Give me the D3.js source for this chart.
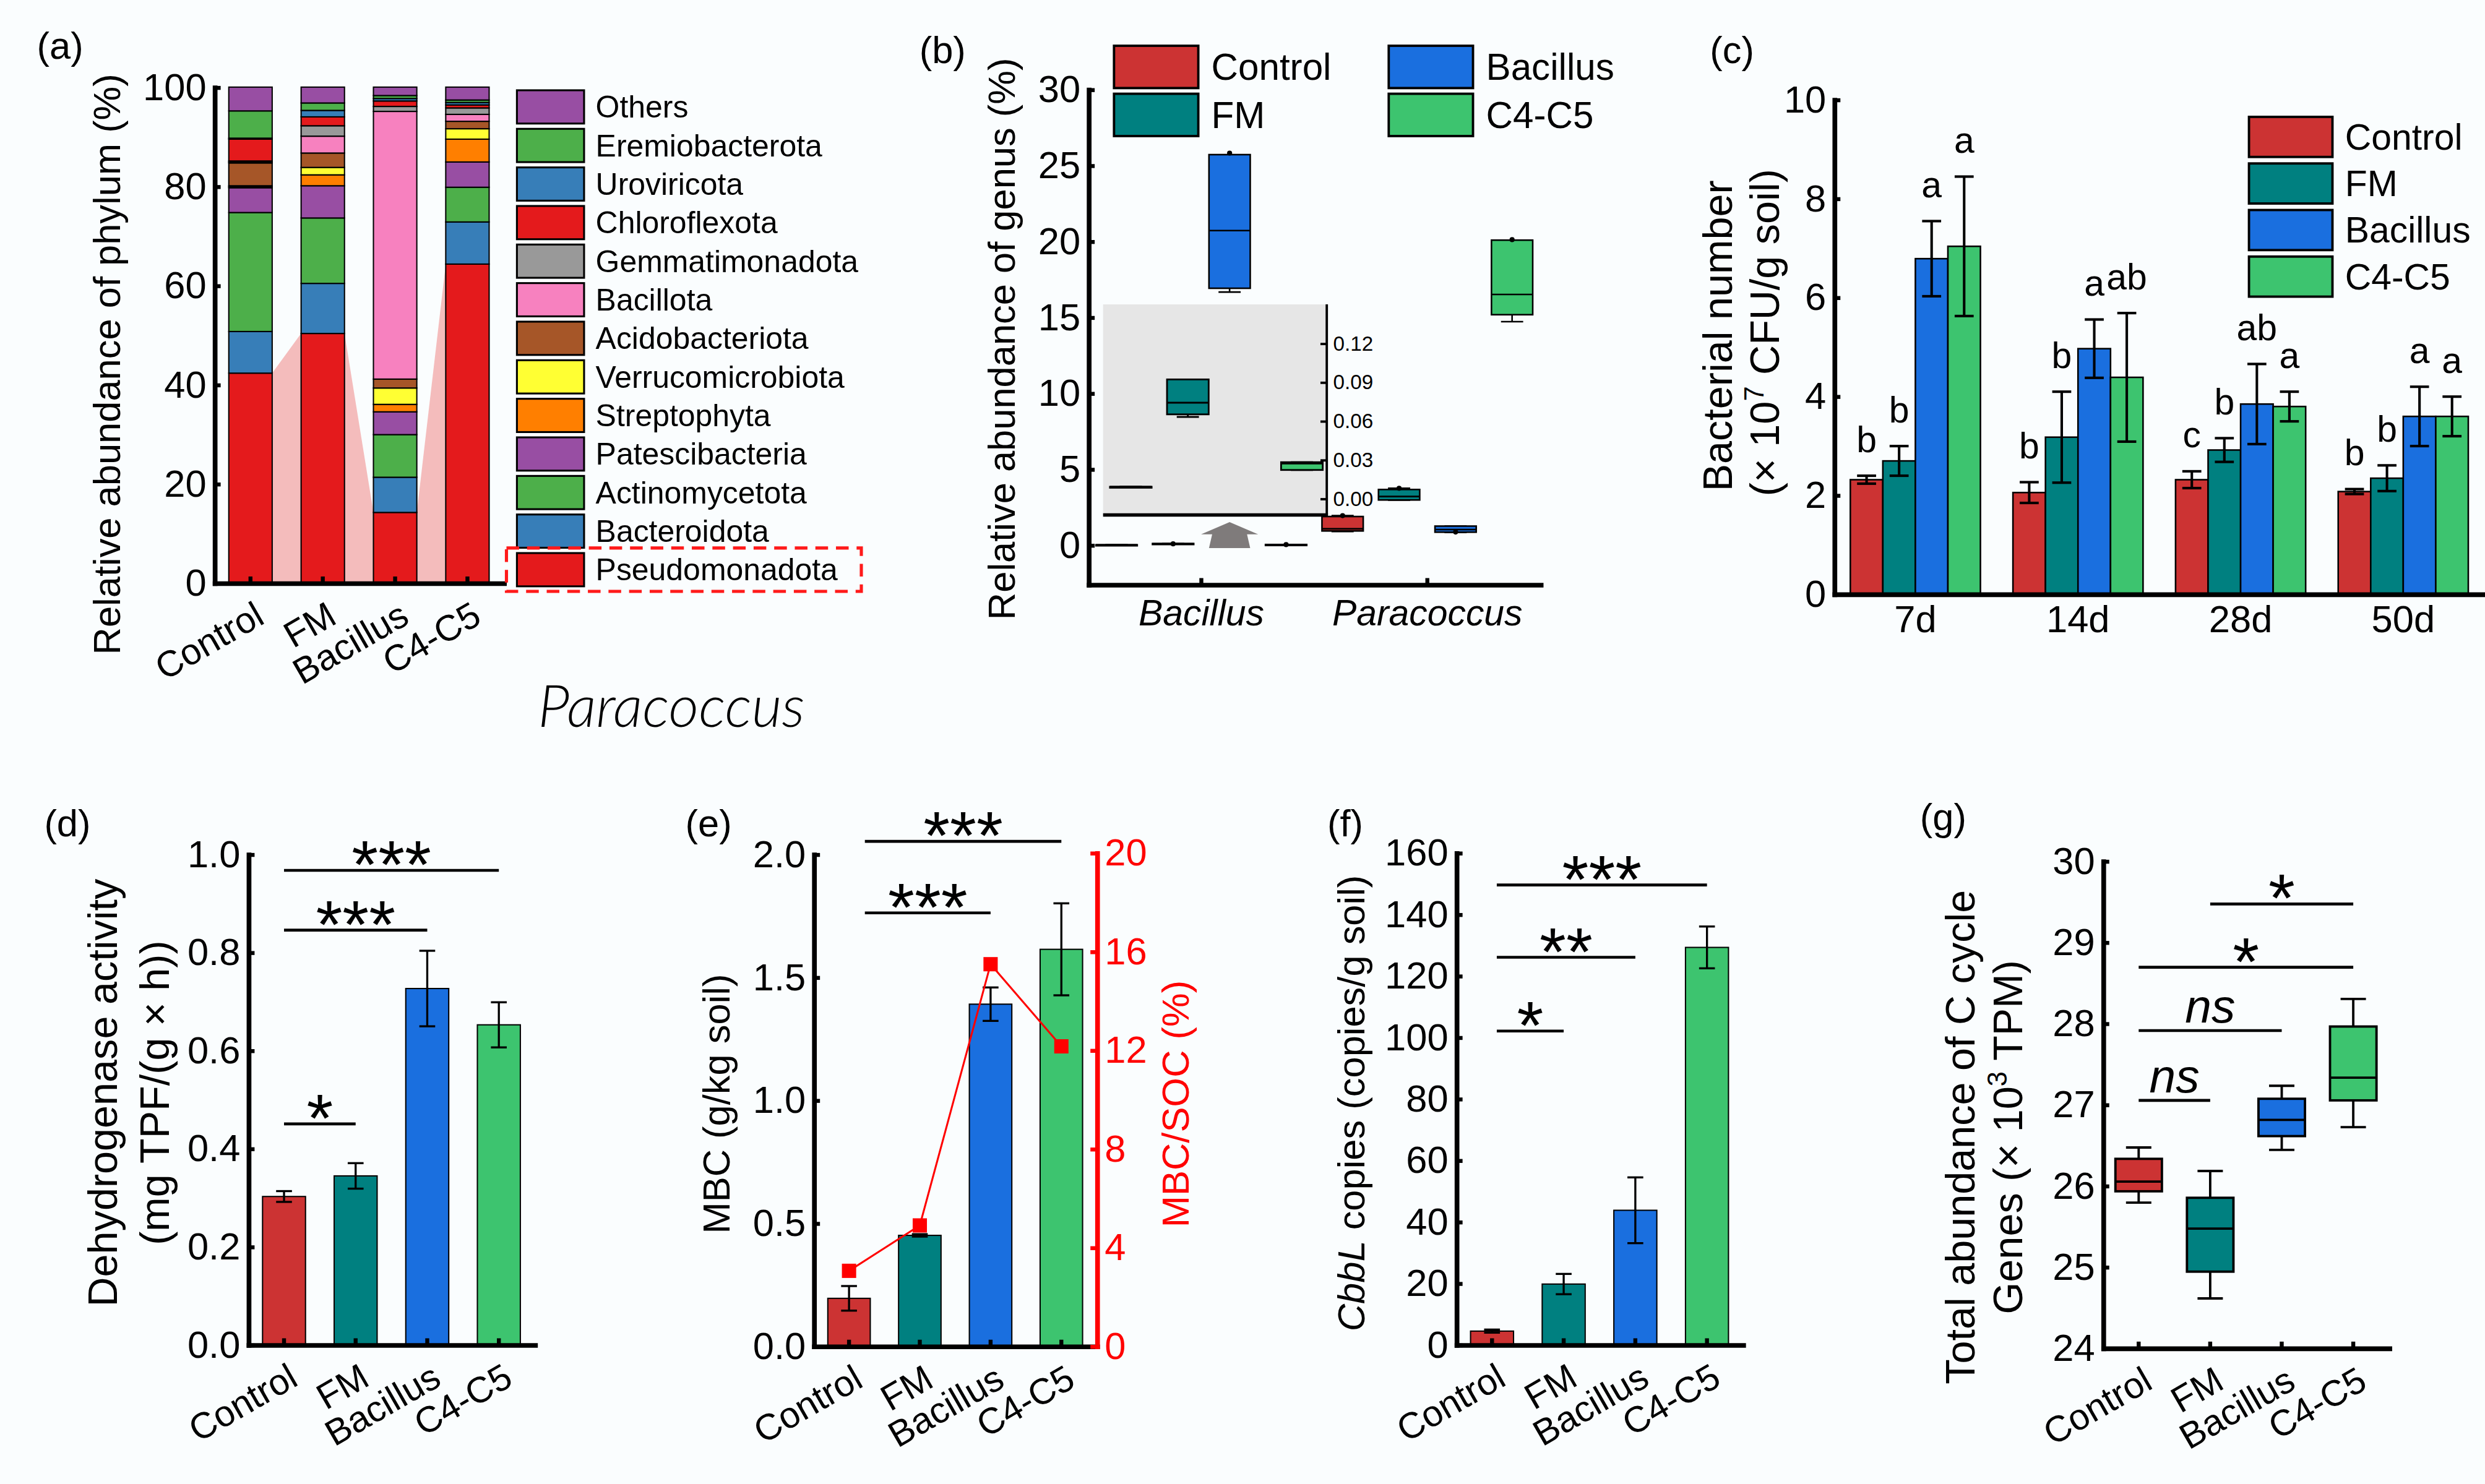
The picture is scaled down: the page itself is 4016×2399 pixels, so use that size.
<!DOCTYPE html>
<html>
<head>
<meta charset="utf-8">
<script src="https://cdn.jsdelivr.net/npm/d3@7"></script>
<style>
  html, body { margin: 0; padding: 0; background: #fafdfe; }
  svg { display: block; }
</style>
</head>
<body>
<div id="chart"></div>
<script>
// ---------- data ----------
var treatments = ["Control", "FM", "Bacillus", "C4-C5"];
var treatColors = ["#cc3333", "#008080", "#1a6fdf", "#3dc46f"];

// (a) phylum composition, bottom to top
var phyla = ["Pseudomonadota", "Bacteroidota", "Actinomycetota", "Patescibacteria", "Streptophyta",
  "Verrucomicrobiota", "Acidobacteriota", "Bacillota", "Gemmatimonadota", "Chloroflexota",
  "Uroviricota", "Eremiobacterota", "Others"];
var phylaColors = ["#e41a1c", "#377eb8", "#4daf4a", "#984ea3", "#ff7f00", "#ffff33", "#a65628",
  "#f781bf", "#999999", "#e41a1c", "#377eb8", "#4daf4a", "#984ea3"];
var phylumControl  = [42.3, 8.4, 24.0, 5.0, 0.2, 0.2, 4.6, 0.2, 0.2, 4.4, 0.2, 5.5, 4.8];
var phylumFM       = [50.3, 10.1, 13.2, 6.5, 2.2, 1.5, 2.9, 3.4, 2.1, 1.8, 1.3, 1.5, 3.2];
var phylumBacillus = [14.2, 7.1, 8.6, 4.6, 1.5, 3.3, 1.8, 54.0, 1.0, 1.1, 0.5, 0.6, 1.7];
var phylumC4C5     = [64.3, 8.5, 7.0, 5.1, 4.6, 2.1, 1.5, 1.4, 1.3, 0.6, 0.5, 0.5, 2.6];

// (b) genus abundance, [min, q1, median, q3, max] per treatment
var genera = ["Bacillus", "Paracoccus"];
var bacillusBoxes = [[0.009, 0.009, 0.009, 0.009, 0.009], [0.063, 0.065, 0.074, 0.092, 0.091],
  [16.65, 16.9, 20.7, 25.7, 25.5], [0.022, 0.022, 0.027, 0.028, 0.028]];
var bacillusPoints = [null, 0.07, 25.8, 0.022];
var paracoccusBoxes = [[0.88, 0.92, 1.06, 1.87, 1.93], [2.95, 2.96, 3.19, 3.65, 3.73],
  [0.82, 0.84, 1.01, 1.24, 1.24], [14.7, 15.16, 16.49, 20.07, 19.8]];
var paracoccusPoints = [1.93, 3.73, 0.85, 20.1];
var genusTicks = [0, 5, 10, 15, 20, 25, 30];
var insetTicks = [0, 0.03, 0.06, 0.09, 0.12];

// (c) bacterial number over time
var days = ["7d", "14d", "28d", "50d"];
var cfuControl  = [2.31, 2.05, 2.31, 2.07];
var cfuFM       = [2.69, 3.17, 2.91, 2.34];
var cfuBacillus = [6.78, 4.96, 3.84, 3.59];
var cfuC4C5     = [7.03, 4.38, 3.79, 3.59];
var cfuControlErr  = [0.08, 0.21, 0.17, 0.05];
var cfuFMErr       = [0.30, 0.92, 0.24, 0.26];
var cfuBacillusErr = [0.76, 0.59, 0.81, 0.60];
var cfuC4C5Err     = [1.41, 1.30, 0.30, 0.40];
var cfuLetters = [["b", "b", "a", "a"], ["b", "b", "a", "ab"], ["c", "b", "ab", "a"], ["b", "b", "a", "a"]];

// (d) dehydrogenase
var dhaMean = [0.302, 0.344, 0.726, 0.652];
var dhaErr  = [0.011, 0.026, 0.077, 0.046];
var dhaSig  = [{a: 0, b: 3, y: 0.967, label: "***"}, {a: 0, b: 2, y: 0.845, label: "***"}, {a: 0, b: 1, y: 0.45, label: "*"}];

// (e) MBC and MBC/SOC
var mbcMean  = [0.194, 0.45, 1.39, 1.613];
var mbcErr   = [0.05, 0.005, 0.068, 0.187];
var mbcRatio = [3.05, 4.89, 15.48, 12.15];
var mbcSig   = [{a: 0, b: 3, y: 2.052, label: "***"}, {a: 0, b: 2, y: 1.761, label: "***"}];

// (f) CbbL copies
var cbbMean = [4.4, 19.7, 43.7, 129.2];
var cbbErr  = [0.5, 3.3, 10.7, 6.8];
var cbbSig  = [{a: 0, b: 3, y: 149.5, label: "***"}, {a: 0, b: 2, y: 126, label: "**"}, {a: 0, b: 1, y: 102, label: "*"}];

// (g) C cycle genes
var cGeneBoxes = [[25.79, 25.93, 26.05, 26.33, 26.47], [24.61, 24.94, 25.47, 25.85, 26.18],
  [26.44, 26.61, 26.81, 27.07, 27.23], [26.72, 27.05, 27.33, 27.96, 28.30]];
var cGeneSig = [{a: 1, b: 3, y: 29.47, label: "*"}, {a: 0, b: 3, y: 28.69, label: "*"},
  {a: 0, b: 2, y: 27.91, label: "ns"}, {a: 0, b: 1, y: 27.05, label: "ns"}];

// ---------- helpers ----------
var FONT = "'Liberation Sans', Arial, Helvetica, sans-serif";
var svg = d3.select("#chart").append("svg")
  .attr("width", 4016).attr("height", 2399)
  .attr("viewBox", "0 0 1568 937")
  .attr("font-family", FONT);
svg.append("rect").attr("width", 1568).attr("height", 937).attr("fill", "#fafdfe");

function styleAxis(g, color) {
  color = color || "#000";
  g.attr("font-family", FONT).attr("font-size", 24);
  g.select(".domain").attr("stroke", color).attr("stroke-width", 3).attr("stroke-linecap", "square");
  g.selectAll(".tick line").attr("stroke", color).attr("stroke-width", 2.5);
  g.selectAll(".tick text").attr("fill", color);
  return g;
}
function leftAxis(y, x, ticks, fmt) {
  return styleAxis(svg.append("g").attr("transform", "translate(" + x + ",0)")
    .call(d3.axisLeft(y).tickValues(ticks).tickFormat(fmt).tickSizeInner(-4).tickSizeOuter(0).tickPadding(5)));
}
function bottomAxis(x, y) {
  return styleAxis(svg.append("g").attr("transform", "translate(0," + y + ")")
    .call(d3.axisBottom(x).tickSizeInner(-4).tickSizeOuter(0).tickFormat("")));
}
function panelLabel(txt, x, y) {
  svg.append("text").attr("x", x).attr("y", y).attr("font-size", 24).text(txt);
}
function yTitle(x, y, size, build, color) {
  var t = svg.append("text")
    .attr("transform", "translate(" + x + "," + y + ") rotate(-90)")
    .attr("text-anchor", "middle").attr("dy", "0.35em")
    .attr("font-size", size).attr("fill", color || "#000");
  if (typeof build === "string") t.text(build); else build(t);
  return t;
}
function rotLabels(x, axisY) {
  svg.append("g").selectAll("text").data(treatments).enter().append("text")
    .attr("text-anchor", "end").attr("font-size", 23)
    .attr("transform", function(d) {
      return "translate(" + (x(d) + x.bandwidth() / 2 + 10) + "," + (axisY + 25) + ") rotate(-30)";
    })
    .text(function(d) { return d; });
}
function sigMarks(sig, x, y, startOff) {
  var g = svg.append("g");
  sig.forEach(function(s) {
    var x1 = x(treatments[s.a]) + x.bandwidth() / 2 + (startOff || 0);
    var x2 = x(treatments[s.b]) + x.bandwidth() / 2;
    var yy = y(s.y);
    g.append("line").attr("x1", x1).attr("x2", x2).attr("y1", yy).attr("y2", yy)
      .attr("stroke", "#000").attr("stroke-width", 1.8);
    var isNs = s.label === "ns";
    g.append("text").attr("x", (x1 + x2) / 2).attr("y", isNs ? yy - 5 : yy + 11)
      .attr("text-anchor", "middle")
      .attr("font-size", isNs ? 30 : 43)
      .attr("font-style", isNs ? "italic" : "normal")
      .text(s.label);
  });
}
function errorBars(g, data, cx, y, capW, sw) {
  var e = g.selectAll("g.err").data(data).enter().append("g")
    .attr("stroke", "#000").attr("stroke-width", sw);
  e.append("line").attr("x1", cx).attr("x2", cx)
    .attr("y1", function(d) { return y(d.v - d.e); }).attr("y2", function(d) { return y(d.v + d.e); });
  [-1, 1].forEach(function(k) {
    e.append("line")
      .attr("x1", function(d) { return cx(d) - capW / 2; }).attr("x2", function(d) { return cx(d) + capW / 2; })
      .attr("y1", function(d) { return y(d.v + k * d.e); }).attr("y2", function(d) { return y(d.v + k * d.e); });
  });
}
function drawBoxes(g, data, cx, y, w, capW, sw) {
  var b = g.selectAll("g.box").data(data).enter().append("g")
    .attr("stroke", "#000").attr("stroke-width", sw);
  b.append("line").attr("x1", cx).attr("x2", cx)
    .attr("y1", function(d) { return y(d.s[0]); }).attr("y2", function(d) { return y(d.s[4]); });
  [0, 4].forEach(function(k) {
    b.append("line")
      .attr("x1", function(d) { return cx(d) - capW / 2; }).attr("x2", function(d) { return cx(d) + capW / 2; })
      .attr("y1", function(d) { return y(d.s[k]); }).attr("y2", function(d) { return y(d.s[k]); });
  });
  b.append("rect")
    .attr("x", function(d) { return cx(d) - w / 2; }).attr("width", w)
    .attr("y", function(d) { return y(d.s[3]); })
    .attr("height", function(d) { return Math.max(y(d.s[1]) - y(d.s[3]), 0.6); })
    .attr("fill", function(d) { return treatColors[d.ti]; });
  b.append("line")
    .attr("x1", function(d) { return cx(d) - w / 2; }).attr("x2", function(d) { return cx(d) + w / 2; })
    .attr("y1", function(d) { return y(d.s[2]); }).attr("y2", function(d) { return y(d.s[2]); });
}

// ---------- (a) ----------
(function drawPhylum() {
  var x = d3.scaleBand().domain(treatments).range([135, 317.6]).paddingInner(0.4).paddingOuter(0.2);
  var y = d3.scaleLinear().domain([0, 100]).range([368, 55]);
  var bw = x.bandwidth();
  var table = [phylumControl, phylumFM, phylumBacillus, phylumC4C5];
  var rows = treatments.map(function(t, i) {
    var row = {treatment: t};
    phyla.forEach(function(p, j) { row[p] = table[i][j]; });
    return row;
  });
  var series = d3.stack().keys(phyla)(rows);
  var base = series[0];
  var links = d3.range(treatments.length - 1).map(function(i) {
    return [[x(treatments[i]) + bw, y(base[i][1])], [x(treatments[i + 1]), y(base[i + 1][1])],
      [x(treatments[i + 1]), y(0)], [x(treatments[i]) + bw, y(0)]];
  });
  svg.append("g").selectAll("path").data(links).enter().append("path")
    .attr("d", function(d) { return "M" + d.join("L") + "Z"; })
    .attr("fill", "#f4bcbc");

  svg.append("g").selectAll("g").data(series).enter().append("g")
    .attr("fill", function(d, i) { return phylaColors[i]; })
    .selectAll("rect").data(function(d) { return d; }).enter().append("rect")
      .attr("x", function(d) { return x(d.data.treatment); })
      .attr("y", function(d) { return y(d[1]); })
      .attr("width", bw)
      .attr("height", function(d) { return y(d[0]) - y(d[1]); })
      .attr("stroke", "#000").attr("stroke-width", 0.8);

  leftAxis(y, 135, [0, 20, 40, 60, 80, 100], d3.format("d"));
  bottomAxis(x, 368);
  rotLabels(x, 368);
  yTitle(67, 230, 24, "Relative abundance of phylum (%)");
  panelLabel("(a)", 23, 37);

  var legendRows = phyla.slice().reverse();
  var rowStep = 24.35, top = 57, boxH = 21;
  var lg = svg.append("g");
  lg.selectAll("rect").data(legendRows).enter().append("rect")
    .attr("x", 326).attr("y", function(d, k) { return top + k * rowStep; })
    .attr("width", 42.4).attr("height", boxH)
    .attr("fill", function(d) { return phylaColors[phyla.indexOf(d)]; })
    .attr("stroke", "#000").attr("stroke-width", 1.2);
  lg.selectAll("text").data(legendRows).enter().append("text")
    .attr("x", 375.7).attr("y", function(d, k) { return top + k * rowStep + boxH / 2; })
    .attr("dy", "0.35em").attr("font-size", 19.5)
    .text(function(d) { return d; });
  var last = legendRows.length - 1;
  lg.append("rect").attr("x", 319.4).attr("y", top + last * rowStep - 3.2)
    .attr("width", 224).attr("height", boxH + 6.4)
    .attr("fill", "none").attr("stroke", "#ff1a1a").attr("stroke-width", 2)
    .attr("stroke-dasharray", "8,5");

  svg.append("text").attr("x", 423.5).attr("y", 459).attr("text-anchor", "middle")
    .attr("font-family", "Lato, 'Open Sans', sans-serif").attr("font-weight", 300)
    .attr("font-style", "italic").attr("font-size", 37).text("Paracoccus");
})();

// ---------- (b) ----------
(function drawGenus() {
  var x0 = d3.scaleBand().domain(genera).range([686.7, 972]);
  var x1 = d3.scaleBand().domain(treatments).range([0, x0.bandwidth()]).paddingInner(0.27).paddingOuter(0.135);
  var y = d3.scaleLinear().domain([-2.6, 30]).range([369, 56.4]);
  var boxes = [];
  genera.forEach(function(g, gi) {
    var stats = [bacillusBoxes, paracoccusBoxes][gi];
    var pts = [bacillusPoints, paracoccusPoints][gi];
    treatments.forEach(function(t, ti) {
      boxes.push({genus: g, treatment: t, ti: ti, s: stats[ti], pt: pts[ti]});
    });
  });
  var cx = function(d) { return x0(d.genus) + x1(d.treatment) + x1.bandwidth() / 2; };
  var g = svg.append("g");
  drawBoxes(g, boxes, cx, y, x1.bandwidth(), 14, 1);
  g.selectAll("circle").data(boxes.filter(function(d) { return d.pt !== null; })).enter().append("circle")
    .attr("cx", cx).attr("cy", function(d) { return y(d.pt); }).attr("r", 1.6).attr("fill", "#000");

  // up arrow marking the zoomed-in values
  var ax = x0("Bacillus") + x1("Bacillus") + x1.bandwidth() / 2;
  var yb = y(0) + 2, yt = y(1.5), ym = y(0.7);
  g.append("path")
    .attr("d", "M" + [[ax, yt], [ax + 18, ym], [ax + 11, ym], [ax + 13, yb], [ax - 13, yb], [ax - 11, ym], [ax - 18, ym]].join("L") + "Z")
    .attr("fill", "#7f7b7b");

  leftAxis(y, 686.7, genusTicks, d3.format("d"));
  bottomAxis(x0, 369);
  svg.append("g").selectAll("text").data(genera).enter().append("text")
    .attr("x", function(d) { return x0(d) + x0.bandwidth() / 2; }).attr("y", 395)
    .attr("text-anchor", "middle").attr("font-style", "italic").attr("font-size", 23)
    .text(function(d) { return d; });
  yTitle(632, 214, 24, "Relative abundance of genus (%)");
  panelLabel("(b)", 580, 40);

  // inset with the small Bacillus values
  var yIn = d3.scaleLinear().domain([0, 0.12]).range([314.7, 216.7]);
  var xIn = d3.scaleBand().domain(treatments).range([695.5, 839.5]).paddingInner(0.27).paddingOuter(0.135);
  var inTop = yIn(0.15), inBot = yIn(-0.0128), inL = 696, inR = 837.2;
  var ig = svg.append("g");
  ig.append("rect").attr("x", inL).attr("y", inTop).attr("width", inR - inL).attr("height", inBot - inTop)
    .attr("fill", "#e6e6e6");
  var small = boxes.filter(function(d) { return d.genus === "Bacillus" && d.s[4] < 0.15; });
  var cxIn = function(d) { return xIn(d.treatment) + xIn.bandwidth() / 2; };
  drawBoxes(ig, small, cxIn, yIn, xIn.bandwidth(), 14, 1.1);
  var ia = ig.append("g").attr("transform", "translate(" + inR + ",0)")
    .call(d3.axisRight(yIn).tickValues(insetTicks).tickFormat(d3.format(".2f")).tickSizeInner(-4).tickSizeOuter(0).tickPadding(4));
  ia.attr("font-family", FONT).attr("font-size", 13);
  ia.select(".domain").remove();
  ia.selectAll(".tick line").attr("stroke", "#000").attr("stroke-width", 1.5);
  ig.append("line").attr("x1", inR).attr("x2", inR).attr("y1", inTop).attr("y2", inBot)
    .attr("stroke", "#000").attr("stroke-width", 1.5);
  ig.append("line").attr("x1", inL).attr("x2", inR + 0.75).attr("y1", inBot).attr("y2", inBot)
    .attr("stroke", "#000").attr("stroke-width", 2.2);

  // legend
  var lg = svg.append("g");
  var spots = [[702.9, 28.9], [702.9, 59.2], [876.3, 28.9], [876.3, 59.2]];
  lg.selectAll("rect").data(treatments).enter().append("rect")
    .attr("x", function(d, i) { return spots[i][0]; }).attr("y", function(d, i) { return spots[i][1]; })
    .attr("width", 53.2).attr("height", 26.7)
    .attr("fill", function(d, i) { return treatColors[i]; })
    .attr("stroke", "#000").attr("stroke-width", 1.5);
  lg.selectAll("text").data(treatments).enter().append("text")
    .attr("x", function(d, i) { return spots[i][0] + 61.4; })
    .attr("y", function(d, i) { return spots[i][1] + 13.35; })
    .attr("dy", "0.35em").attr("font-size", 23.5)
    .text(function(d) { return d; });
})();

// ---------- (c) ----------
(function drawCfu() {
  var x0 = d3.scaleBand().domain(days).range([1157.4, 1568]).paddingInner(0.2).paddingOuter(0.1);
  var x1 = d3.scaleBand().domain(treatments).range([0, x0.bandwidth()]);
  var y = d3.scaleLinear().domain([0, 10]).range([375, 62.8]);
  var means = [cfuControl, cfuFM, cfuBacillus, cfuC4C5];
  var errs = [cfuControlErr, cfuFMErr, cfuBacillusErr, cfuC4C5Err];
  var data = [];
  days.forEach(function(d, di) {
    treatments.forEach(function(t, ti) {
      data.push({day: d, treatment: t, ti: ti, v: means[ti][di], e: errs[ti][di], letter: cfuLetters[di][ti]});
    });
  });
  var cx = function(d) { return x0(d.day) + x1(d.treatment) + x1.bandwidth() / 2; };
  var g = svg.append("g");
  g.selectAll("rect").data(data).enter().append("rect")
    .attr("x", function(d) { return x0(d.day) + x1(d.treatment); })
    .attr("y", function(d) { return y(d.v); })
    .attr("width", x1.bandwidth())
    .attr("height", function(d) { return y(0) - y(d.v); })
    .attr("fill", function(d) { return treatColors[d.ti]; })
    .attr("stroke", "#000").attr("stroke-width", 1);
  errorBars(g, data, cx, y, 12, 1.6);
  g.selectAll("text.letter").data(data).enter().append("text")
    .attr("x", cx).attr("y", function(d) { return y(d.v + d.e) - 15; })
    .attr("text-anchor", "middle").attr("font-size", 23)
    .text(function(d) { return d.letter; });

  leftAxis(y, 1157.4, [0, 2, 4, 6, 8, 10], d3.format("d"));
  styleAxis(svg.append("g").attr("transform", "translate(0,375)")
    .call(d3.axisBottom(x0).tickSizeInner(0).tickSizeOuter(0).tickPadding(7)));
  yTitle(1084, 212, 26, "Bacterial number");
  yTitle(1113.6, 210, 26, function(t) {
    t.append("tspan").text("(\u00d7 10");
    t.append("tspan").attr("font-size", 17).attr("dy", -10).text("7");
    t.append("tspan").attr("dy", 10).text(" CFU/g soil)");
  });
  panelLabel("(c)", 1079, 40);

  var lg = svg.append("g");
  lg.selectAll("rect").data(treatments).enter().append("rect")
    .attr("x", 1419.3).attr("y", function(d, i) { return 73.8 + i * 29.4; })
    .attr("width", 52.7).attr("height", 25.3)
    .attr("fill", function(d, i) { return treatColors[i]; })
    .attr("stroke", "#000").attr("stroke-width", 1.5);
  lg.selectAll("text").data(treatments).enter().append("text")
    .attr("x", 1479.9).attr("y", function(d, i) { return 73.8 + i * 29.4 + 12.65; })
    .attr("dy", "0.35em").attr("font-size", 23)
    .text(function(d) { return d; });
})();

// ---------- (d), (e), (f): bar panels ----------
function barPanel(o) {
  var x = d3.scaleBand().domain(treatments).range([o.x0, o.x1]).paddingInner(0.4).paddingOuter(0.2);
  var y = d3.scaleLinear().domain(o.domain).range([o.yBottom, o.yTop]);
  var data = treatments.map(function(t, i) { return {treatment: t, ti: i, v: o.mean[i], e: o.err[i]}; });
  var cx = function(d) { return x(d.treatment) + x.bandwidth() / 2; };
  var g = svg.append("g");
  g.selectAll("rect").data(data).enter().append("rect")
    .attr("x", function(d) { return x(d.treatment); })
    .attr("y", function(d) { return y(d.v); })
    .attr("width", x.bandwidth())
    .attr("height", function(d) { return y(o.domain[0]) - y(d.v); })
    .attr("fill", function(d) { return treatColors[d.ti]; })
    .attr("stroke", "#000").attr("stroke-width", 0.8);
  errorBars(g, data, cx, y, 10, 1.3);
  leftAxis(y, o.x0, o.ticks, o.fmt);
  bottomAxis(x, o.yBottom);
  rotLabels(x, o.yBottom);
  sigMarks(o.sig, x, y, o.sigOff);
  return {x: x, y: y, cx: cx, data: data};
}

barPanel({x0: 156.4, x1: 337.2, yBottom: 849, yTop: 539.3, domain: [0, 1],
  ticks: [0, 0.2, 0.4, 0.6, 0.8, 1.0], fmt: d3.format(".1f"),
  mean: dhaMean, err: dhaErr, sig: dhaSig});
yTitle(64.4, 690, 26, "Dehydrogenase activity");
yTitle(97.2, 690, 26, "(mg TPF/(g \u00d7 h))");
panelLabel("(d)", 27.6, 528);

(function drawMbc() {
  var p = barPanel({x0: 513.3, x1: 692, yBottom: 849.9, yTop: 539.3, domain: [0, 2],
    ticks: [0, 0.5, 1.0, 1.5, 2.0], fmt: d3.format(".1f"),
    mean: mbcMean, err: mbcErr, sig: mbcSig, sigOff: 10});
  var yR = d3.scaleLinear().domain([0, 20]).range([849.9, 538.4]);
  var ra = svg.append("g").attr("transform", "translate(692,0)")
    .call(d3.axisRight(yR).tickValues([0, 4, 8, 12, 16, 20]).tickFormat(d3.format("d"))
      .tickSizeInner(-4).tickSizeOuter(0).tickPadding(5));
  styleAxis(ra, "#ff0000");
  var line = d3.line().x(p.cx).y(function(d) { return yR(mbcRatio[d.ti]); });
  svg.append("path").datum(p.data).attr("d", line)
    .attr("fill", "none").attr("stroke", "#ff0000").attr("stroke-width", 1.2);
  svg.append("g").selectAll("rect").data(p.data).enter().append("rect")
    .attr("x", function(d) { return p.cx(d) - 4.5; })
    .attr("y", function(d) { return yR(mbcRatio[d.ti]) - 4.5; })
    .attr("width", 9).attr("height", 9).attr("fill", "#ff0000");
  yTitle(452, 697, 24, "MBC (g/kg soil)");
  yTitle(741.7, 697, 24, "MBC/SOC (%)", "#ff0000");
  panelLabel("(e)", 432.3, 528);
})();

barPanel({x0: 918.9, x1: 1099.8, yBottom: 849, yTop: 538.4, domain: [0, 160],
  ticks: [0, 20, 40, 60, 80, 100, 120, 140, 160], fmt: d3.format("d"),
  mean: cbbMean, err: cbbErr, sig: cbbSig, sigOff: 3});
yTitle(852.5, 696.6, 24, function(t) {
  t.append("tspan").attr("font-style", "italic").text("CbbL");
  t.append("tspan").text(" copies (copies/g soil)");
});
panelLabel("(f)", 837.5, 528);

// ---------- (g) ----------
(function drawCGenes() {
  var x = d3.scaleBand().domain(treatments).range([1327.1, 1507.7]).paddingInner(0.35).paddingOuter(0.175);
  var y = d3.scaleLinear().domain([24, 30]).range([851.1, 543.6]);
  var data = treatments.map(function(t, i) { return {treatment: t, ti: i, s: cGeneBoxes[i]}; });
  var cx = function(d) { return x(d.treatment) + x.bandwidth() / 2; };
  drawBoxes(svg.append("g"), data, cx, y, x.bandwidth(), 16, 1.5);
  leftAxis(y, 1327.1, [24, 25, 26, 27, 28, 29, 30], d3.format("d"));
  bottomAxis(x, 851.1);
  rotLabels(x, 851.1);
  sigMarks(cGeneSig, x, y, 0);
  yTitle(1236.9, 718, 26, "Total abundance of C cycle");
  yTitle(1267.2, 718, 26, function(t) {
    t.append("tspan").text("Genes (\u00d7 10");
    t.append("tspan").attr("font-size", 17).attr("dy", -10).text("3");
    t.append("tspan").attr("dy", 10).text(" TPM)");
  });
  panelLabel("(g)", 1211.6, 524);
})();
</script>
</body>
</html>
